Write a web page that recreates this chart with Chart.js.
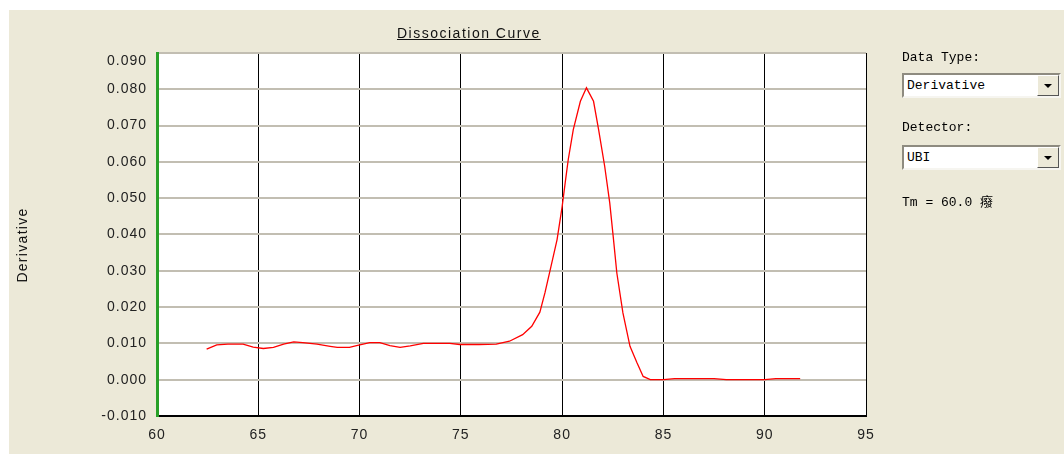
<!DOCTYPE html>
<html>
<head>
<meta charset="utf-8">
<script src="https://cdn.jsdelivr.net/npm/chart.js@4/dist/chart.umd.min.js"></script>
<style>
  body { margin: 0; background: #fff; width: 1064px; height: 454px; overflow: hidden; position: relative; }
  #bg { position: absolute; left: 9px; top: 10px; right: 0; bottom: 0; background: #ECE9D8; }
  #wrap { position: absolute; left: 0; top: 0; width: 1064px; height: 454px; }
  #title { position: absolute; left: 397px; top: 25px; font: 14px "Liberation Sans", Arial, sans-serif;
    letter-spacing: 1.5px; line-height: 16px; text-decoration: underline; color: #111; white-space: nowrap; }
  #ytitle { position: absolute; left: -38px; top: 237px; width: 120px; height: 16px; line-height: 16px;
    text-align: center; font: 14px "Liberation Sans", Arial, sans-serif; letter-spacing: 1.3px; color: #111;
    transform: rotate(-90deg); }
  .lbl { position: absolute; left: 902px; font: 13px "Liberation Mono", "Noto Sans CJK SC", monospace; line-height: 15px; color: #000; white-space: nowrap; }
  .combo { position: absolute; left: 902px; width: 159px; height: 25px; box-sizing: border-box; background: #fff;
    border-top: 2px solid #8E8B80; border-left: 2px solid #8E8B80; border-bottom: 2px solid #F6F5F0; border-right: 2px solid #F6F5F0;
    font: 13px "Liberation Mono", monospace; line-height: 21px; padding-left: 3px; color: #000; }
  .btn { position: absolute; right: 0; top: 0; width: 22px; height: 21px; box-sizing: border-box; background: #ECE9D8;
    border-top: 1px solid #fff; border-left: 1px solid #fff; border-bottom: 1px solid #555; border-right: 1px solid #555; }
  .btn:after { content: ""; position: absolute; left: 6px; top: 8px; border-left: 4px solid transparent; border-right: 4px solid transparent; border-top: 4px solid #000; }
</style>
</head>
<body>
<div id="bg"></div>
<div id="wrap"><canvas id="chart"></canvas></div>
<div id="title">Dissociation Curve</div>
<div id="ytitle">Derivative</div>
<div class="lbl" style="top:50px">Data Type:</div>
<div class="combo" style="top:73px">Derivative<div class="btn"></div></div>
<div class="lbl" style="top:120px">Detector:</div>
<div class="combo" style="top:145px">UBI<div class="btn"></div></div>
<div class="lbl" style="top:195px">Tm = 60.0 癈</div>
<script>
const temps = [62.45, 62.95, 63.5, 64.25, 64.75, 65.25, 65.75, 66.25, 66.75, 67.2,
  67.9, 68.55, 68.9, 69.5, 69.85, 70.5, 71.0, 71.5, 72.0, 72.5,
  73.15, 73.8, 74.45, 74.95, 75.9, 76.75, 77.4, 78.05, 78.5, 78.9,
  79.15, 79.45, 79.75, 80.0, 80.15, 80.3, 80.55, 80.9, 81.2, 81.55,
  81.8, 82.1, 82.35, 82.52, 82.7, 83.0, 83.35, 83.7, 84.0, 84.35,
  85.0, 85.55, 86.5, 87.5, 88.1, 89.0, 90.0, 90.55, 91.0, 91.75];
const derivs = [0.0084, 0.0096, 0.0098, 0.0098, 0.0090, 0.0086, 0.0089, 0.0098, 0.0104, 0.0102,
  0.0098, 0.0092, 0.0089, 0.0089, 0.0094, 0.0102, 0.0102, 0.0094, 0.0089, 0.0093,
  0.0100, 0.0100, 0.0100, 0.0097, 0.0097, 0.0098, 0.0106, 0.0124, 0.0147, 0.0186,
  0.0239, 0.0312, 0.0386, 0.0477, 0.0542, 0.0606, 0.0689, 0.0767, 0.0804, 0.0767,
  0.0689, 0.0588, 0.0487, 0.0395, 0.0294, 0.0184, 0.0092, 0.0046, 0.0009, 0.0000,
  0.0000, 0.0003, 0.0003, 0.0003, 0.0000, 0.0000, 0.0000, 0.0003, 0.0003, 0.0003];
const xTicks = [60, 65, 70, 75, 80, 85, 90, 95];
const yTicks = [-0.01, 0, 0.01, 0.02, 0.03, 0.04, 0.05, 0.06, 0.07, 0.08, 0.09];

const spacing = {
  id: 'spacing',
  beforeLayout(chart) { chart.ctx.letterSpacing = '1px'; },
  beforeDraw(chart) {
    const ctx = chart.ctx, a = chart.chartArea;
    ctx.letterSpacing = '1px';
    ctx.save();
    ctx.fillStyle = '#fff';
    ctx.fillRect(a.left, a.top, a.right - a.left, a.bottom - a.top);
    ctx.restore();
  }
};

const tickFont = { family: '"Liberation Sans", Arial, sans-serif', size: 14 };

chart = new Chart(document.getElementById('chart').getContext('2d'), {
  type: 'line',
  data: {
    datasets: [{
      data: temps.map((t, i) => ({ x: t, y: derivs[i] })),
      borderColor: '#FF0000',
      borderWidth: 1.3,
      pointRadius: 0,
      tension: 0,
      fill: false
    }]
  },
  options: {
    responsive: true,
    maintainAspectRatio: false,
    animation: false,
    layout: { padding: { left: 9, right: 198, top: 53, bottom: 8 } },
    plugins: { legend: { display: false }, tooltip: { enabled: false } },
    scales: {
      x: {
        type: 'linear', min: 60, max: 95,
        afterBuildTicks: s => { s.ticks = xTicks.map(v => ({ value: v })); },
        afterFit: s => { s.height = 30; },
        ticks: { font: tickFont, color: '#222', padding: 11, maxRotation: 0, autoSkip: false, callback: v => String(v) },
        grid: { color: c => c.tick && c.tick.value === 60 ? 'rgba(0,0,0,0)' : '#000', lineWidth: 1, drawTicks: false },
        border: { color: '#000', width: 2 }
      },
      y: {
        type: 'linear', min: -0.01, max: 0.09,
        afterBuildTicks: s => { s.ticks = yTicks.map(v => ({ value: v })); },
        afterFit: s => { s.width = 148; },
        ticks: {
          font: tickFont, color: '#222', padding: 10, autoSkip: false,
          callback: v => Math.abs(v - 0.09) < 1e-9 ? ['', v.toFixed(3)] : v.toFixed(3)
        },
        grid: { color: c => c.tick && Math.abs(c.tick.value + 0.01) < 1e-9 ? '#000' : '#C2BEB2', lineWidth: 2, drawTicks: false },
        border: { color: '#28A028', width: 3 }
      }
    }
  },
  plugins: [spacing]
});
</script>
</body>
</html>
